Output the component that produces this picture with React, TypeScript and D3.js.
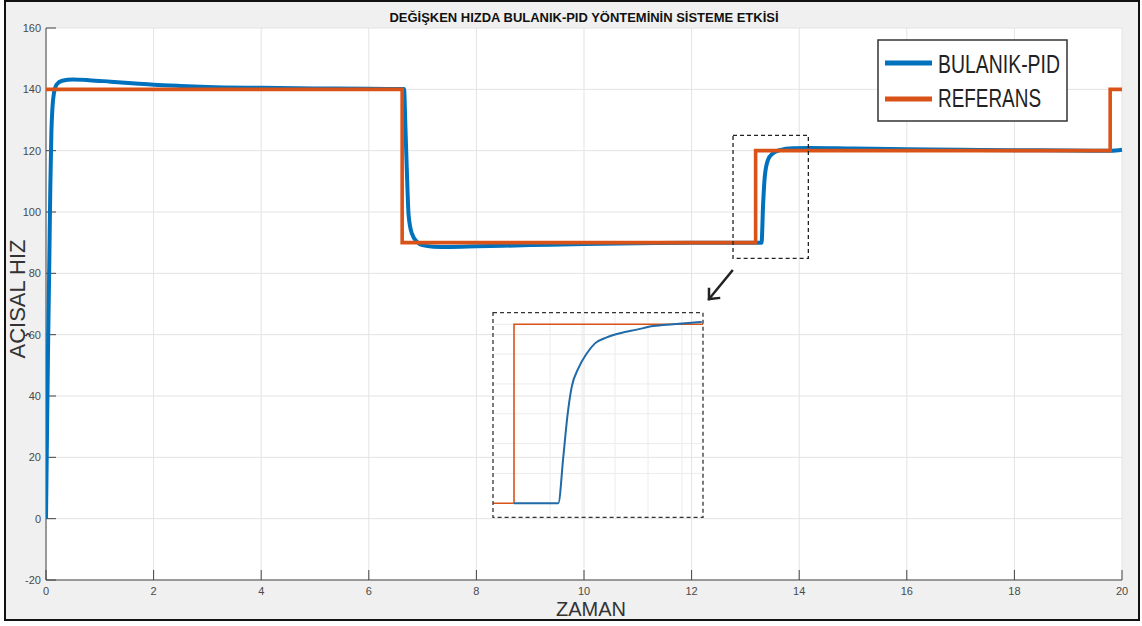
import React from "react";
import * as d3 from "d3";

// ---- data ----
const xTicks = [0, 2, 4, 6, 8, 10, 12, 14, 16, 18, 20];
const yTicks = [-20, 0, 20, 40, 60, 80, 100, 120, 140, 160];

const fuzzyTime = [
  0, 0.02, 0.04, 0.06, 0.08, 0.1, 0.12, 0.15, 0.2, 0.3, 0.5, 0.8, 1.2, 1.6, 2, 2.5, 3, 4, 5, 6, 6.655,
  6.68, 6.71, 6.74, 6.8, 6.9, 7.0, 7.2, 7.5, 8, 9, 10, 11, 12, 13.3,
  13.33, 13.36, 13.42, 13.51, 13.64, 13.88, 14.2, 15, 16, 17, 18, 19, 19.8, 20,
];
const fuzzyValues = [
  0, 30, 58, 82, 108, 126, 134, 139, 141.6, 142.8, 143.2, 143, 142.5, 142, 141.5, 141.1, 140.8, 140.5, 140.3, 140.15, 140.1,
  128, 112, 99, 93, 90.2, 89.2, 88.7, 88.6, 88.8, 89.2, 89.6, 89.8, 89.95, 90,
  102.8, 111.5, 117, 119.1, 120.2, 120.8, 120.9, 120.7, 120.5, 120.3, 120.15, 120.05, 120, 120.3,
];

const refTime = [0, 6.62, 13.19, 19.78, 20];
const refValues = [140, 90, 120, 140, 140];

// inset (zoomed view of the 13.2 s step)
const insetRefTime = [13.1475, 13.2, 13.6725];
const insetRefValues = [90, 120, 120];
const insetFuzzyTime = [
  13.2, 13.3108, 13.3233, 13.3333, 13.3443, 13.3608, 13.3818, 13.4025, 13.4318, 13.465, 13.5068, 13.5483, 13.5983, 13.6693,
];
const insetFuzzyValues = [90, 90, 97.8, 104.5, 109.5, 112.6, 115.1, 116.8, 117.8, 118.5, 119.1, 119.7, 120.0, 120.4];
const insetXGrid = [13.29, 13.37, 13.4525, 13.535, 13.62];
const insetYGrid = [95, 100, 105, 110, 115, 120];

const legendLabels = ["BULANIK-PID", "REFERANS"];
const titleText = "DEĞİŞKEN HIZDA BULANIK-PID YÖNTEMİNİN SİSTEME ETKİSİ";

// ---- layout ----
const W = 1142;
const H = 626;
const plot = { left: 46, right: 1122, top: 28, bottom: 580 };
const BLUE = "#0072BD";
const ORANGE = "#D95319";

export default function App() {
  const x = d3.scaleLinear().domain([0, 20]).range([plot.left, plot.right]);
  const y = d3.scaleLinear().domain([-20, 160]).range([plot.bottom, plot.top]);

  const blueLine = d3
    .line<number>()
    .x((_, i) => x(fuzzyTime[i]))
    .y((d) => y(d))
    .curve(d3.curveMonotoneX)(fuzzyValues);

  const refLine = d3
    .line<number>()
    .x((_, i) => x(refTime[i]))
    .y((d) => y(d))
    .curve(d3.curveStepAfter)(refValues);

  // inset scales
  const ix = d3.scaleLinear().domain([13.1475, 13.6725]).range([493, 703]);
  const iy = d3.scaleLinear().domain([87.65, 121.94]).range([517.3, 312.7]);
  const insetBlue = d3
    .line<number>()
    .x((_, i) => ix(insetFuzzyTime[i]))
    .y((d) => iy(d))
    .curve(d3.curveMonotoneX)(insetFuzzyValues);
  const insetRef = d3
    .line<number>()
    .x((_, i) => ix(insetRefTime[i]))
    .y((d) => iy(d))
    .curve(d3.curveStepAfter)(insetRefValues);

  // zoom box in main axes
  const zx0 = 12.77, zx1 = 14.17, zy0 = 125, zy1 = 84.9;

  const tickFont = "'Liberation Sans', Arial, Helvetica, sans-serif";
  const narrowFont = "'Liberation Sans Narrow', 'Arial Narrow', 'Liberation Sans', Arial, sans-serif";

  return (
    <svg
      width={W}
      height={H}
      viewBox={`0 0 ${W} ${H}`}
      style={{ position: "absolute", left: 0, top: 0, background: "#fff" }}
    >
      <defs>
        <clipPath id="plotClip">
          <rect x={plot.left} y={plot.top - 4} width={plot.right - plot.left + 4} height={plot.bottom - plot.top + 4} />
        </clipPath>
      </defs>
      {/* figure background + frame */}
      <rect x={5} y={1} width={1134} height={619} fill="#f0f0f0" stroke="#111" strokeWidth={2} />
      {/* plot area */}
      <rect x={plot.left} y={plot.top} width={plot.right - plot.left} height={plot.bottom - plot.top} fill="#fff" />

      {/* grid */}
      {xTicks.map((t) => (
        <line key={"gx" + t} x1={x(t)} x2={x(t)} y1={plot.top} y2={plot.bottom} stroke="#e3e3e3" strokeWidth={1} />
      ))}
      {yTicks.map((t) => (
        <line key={"gy" + t} x1={plot.left} x2={plot.right} y1={y(t)} y2={y(t)} stroke="#e3e3e3" strokeWidth={1} />
      ))}

      {/* axes */}
      <line x1={plot.left} x2={plot.left} y1={plot.top} y2={plot.bottom} stroke="#444" strokeWidth={1} />
      <line x1={plot.left} x2={plot.right} y1={plot.bottom} y2={plot.bottom} stroke="#444" strokeWidth={1} />
      {yTicks.map((t) => (
        <g key={"yt" + t}>
          <line x1={plot.left} x2={plot.left + 10} y1={y(t)} y2={y(t)} stroke="#444" strokeWidth={1} />
          <text x={plot.left - 5} y={y(t) + 4} textAnchor="end" fontFamily={tickFont} fontSize={11} fill="#4a4a4a">
            {t}
          </text>
        </g>
      ))}
      {xTicks.map((t) => (
        <g key={"xt" + t}>
          <line x1={x(t)} x2={x(t)} y1={plot.bottom} y2={plot.bottom - 10} stroke="#444" strokeWidth={1} />
          <text x={x(t)} y={plot.bottom + 15} textAnchor="middle" fontFamily={tickFont} fontSize={11} fill="#4a4a4a">
            {t}
          </text>
        </g>
      ))}

      {/* data lines */}
      <g clipPath="url(#plotClip)">
        <path d={blueLine ?? ""} fill="none" stroke={BLUE} strokeWidth={4} strokeLinejoin="round" />
        <path d={refLine ?? ""} fill="none" stroke={ORANGE} strokeWidth={3.6} strokeLinejoin="miter" />
      </g>

      {/* zoom box */}
      <rect
        x={x(zx0)}
        y={y(zy0)}
        width={x(zx1) - x(zx0)}
        height={y(zy1) - y(zy0)}
        fill="none"
        stroke="#222"
        strokeWidth={1.3}
        strokeDasharray="4,3"
      />

      {/* arrow */}
      <g stroke="#222" strokeWidth={2.5} fill="none" strokeLinecap="square">
        <line x1={732} y1={271} x2={709} y2={299} />
        <polyline points="709,289 709,299 719,298" strokeLinejoin="miter" />
      </g>

      {/* inset */}
      <g>
        {insetXGrid.map((t) => (
          <line key={"ixg" + t} x1={ix(t)} x2={ix(t)} y1={313} y2={517} stroke="#ececec" strokeWidth={1} />
        ))}
        {insetYGrid.map((t) => (
          <line key={"iyg" + t} x1={493} x2={703} y1={iy(t)} y2={iy(t)} stroke="#ececec" strokeWidth={1} />
        ))}
        <path d={insetRef ?? ""} fill="none" stroke={ORANGE} strokeWidth={1.6} />
        <path d={insetBlue ?? ""} fill="none" stroke="#1f6aa8" strokeWidth={2} />
        <rect x={493} y={312.7} width={210} height={204.6} fill="none" stroke="#333" strokeWidth={1.3} strokeDasharray="4,3" />
      </g>

      {/* legend */}
      <g>
        <rect x={878} y={40} width={189} height={81} fill="#fff" stroke="#333" strokeWidth={1.5} />
        <line x1={885} x2={932} y1={63} y2={63} stroke={BLUE} strokeWidth={5} />
        <line x1={885} x2={932} y1={99} y2={99} stroke={ORANGE} strokeWidth={5} />
        <text x={938} y={73} fontFamily={narrowFont} fontSize={26} fill="#222" textLength={122} lengthAdjust="spacingAndGlyphs">
          {legendLabels[0]}
        </text>
        <text x={938} y={107} fontFamily={narrowFont} fontSize={26} fill="#222" textLength={103} lengthAdjust="spacingAndGlyphs">
          {legendLabels[1]}
        </text>
      </g>

      {/* title */}
      <text
        x={584}
        y={21.5}
        textAnchor="middle"
        fontFamily={tickFont}
        fontWeight="bold"
        fontSize={12.5}
        fill="#111"
        textLength={389}
        lengthAdjust="spacingAndGlyphs"
      >
        {titleText}
      </text>

      {/* axis labels */}
      <text x={591} y={616} textAnchor="middle" fontFamily={narrowFont} fontSize={20} fill="#333">
        ZAMAN
      </text>
      <text
        transform="translate(25,299) rotate(-90)"
        textAnchor="middle"
        fontFamily={narrowFont}
        fontSize={22}
        fill="#333"
      >
        AÇISAL HIZ
      </text>
    </svg>
  );
}
